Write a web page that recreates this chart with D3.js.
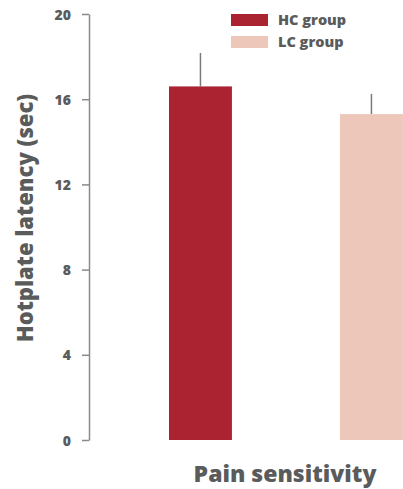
<!DOCTYPE html>
<html>
<head>
<meta charset="utf-8">
<script src="https://cdn.jsdelivr.net/npm/d3@7/dist/d3.min.js"></script>
<style>
  html, body { margin: 0; padding: 0; background: #fff; }
  svg { display: block; }
  text { font-family: "Open Sans", sans-serif; font-weight: 800; fill: #5a5b5b; }
</style>
</head>
<body>
<svg id="chart" width="403" height="489"></svg>
<script>
// Hotplate latency by group (mean and upper error)
const groups = ["HC group", "LC group"];
const means = [16.6, 15.3];
const errors = [1.57, 0.95];
const colors = ["#ab2231", "#edc7b9"];
const yTicks = [0, 4, 8, 12, 16, 20];

const svg = d3.select("#chart");
const axisX = 89;
const y = d3.scaleLinear().domain([0, 20]).range([440, 14]);
const x = d3.scaleBand().domain(groups).range([83.5, 488.4]).paddingInner(0.632).paddingOuter(0.5);

// y axis
const yAxis = d3.axisLeft(y).tickValues(yTicks).tickSize(7).tickSizeOuter(0).tickPadding(11);
const gy = svg.append("g").attr("transform", `translate(${axisX},0)`).call(yAxis);
gy.select(".domain").attr("stroke", "#8a8a8a").attr("stroke-width", 1.5);
gy.selectAll(".tick line").attr("stroke", "#8a8a8a").attr("stroke-width", 1.5);
gy.selectAll(".tick text")
  .style("font-family", "'Open Sans', sans-serif").style("font-weight", 800)
  .style("font-size", "14px").attr("fill", "#5a5b5b").attr("dy", "0.36em");

// error bars (upper only)
svg.append("g").selectAll("line").data(groups).join("line")
  .attr("x1", d => x(d) + x.bandwidth() / 2)
  .attr("x2", d => x(d) + x.bandwidth() / 2)
  .attr("y1", (d, i) => y(means[i]))
  .attr("y2", (d, i) => y(means[i] + errors[i]))
  .attr("stroke", "#7a7a7a").attr("stroke-width", 1.5);

// bars
svg.append("g").selectAll("rect").data(groups).join("rect")
  .attr("x", d => x(d))
  .attr("width", x.bandwidth())
  .attr("y", (d, i) => y(means[i]))
  .attr("height", (d, i) => y(0) - y(means[i]))
  .attr("fill", (d, i) => colors[i]);

// legend
const legend = svg.append("g").attr("transform", "translate(231,14)");
groups.forEach((g, i) => {
  legend.append("rect").attr("x", 0).attr("y", i * 22).attr("width", 37).attr("height", 12).attr("fill", colors[i]);
  legend.append("text").attr("x", 47).attr("y", i * 22 + 11).style("font-size", "14.5px").text(g);
});

// axis titles
svg.append("text").attr("x", 285).attr("y", 482).attr("text-anchor", "middle")
  .style("font-size", "23px").text("Pain sensitivity");
svg.append("text").attr("transform", "translate(33,218) rotate(-90)").attr("text-anchor", "middle")
  .style("font-size", "22px").text("Hotplate latency (sec)");
</script>
</body>
</html>
